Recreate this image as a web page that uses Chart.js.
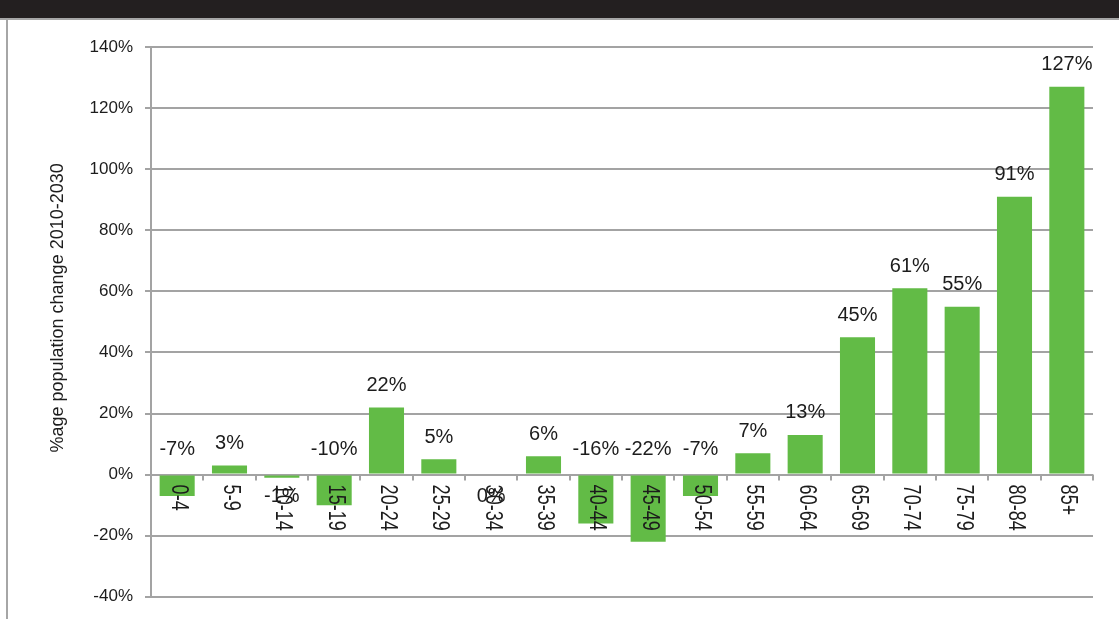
<!DOCTYPE html>
<html>
<head>
<meta charset="utf-8">
<title>Population change by age group 2010-2030</title>
<script src="https://cdn.jsdelivr.net/npm/chart.js"></script>
<style>
  html, body { margin: 0; padding: 0; background: #fff; }
  canvas { display: block; }
</style>
</head>
<body>
<canvas id="bar-chart" width="1119" height="619"></canvas>
<script>
// age bands and projected % change 2010-2030
const ageGroups = ["0-4", "5-9", "10-14", "15-19", "20-24", "25-29", "30-34", "35-39", "40-44",
  "45-49", "50-54", "55-59", "60-64", "65-69", "70-74", "75-79", "80-84", "85+"];
const pctChange = [-7, 3, -1, -10, 22, 5, 0, 6, -16, -22, -7, 7, 13, 45, 61, 55, 91, 127];
const yTicks = [-40, -20, 0, 20, 40, 60, 80, 100, 120, 140];
const yTitle = "%age population change 2010-2030";

const GREEN = "#62bb46";
const GRID = "#a3a3a3";
const INK = "#1c1c1c";
const FONT = "'Liberation Sans', Arial, sans-serif";

// black banner + grey frame behind the plot
const frame = {
  id: "frame",
  beforeDraw(chart) {
    const ctx = chart.ctx;
    ctx.save();
    ctx.fillStyle = "#231f20";
    ctx.fillRect(0, 0, chart.width, 18);
    ctx.fillStyle = "#a6a6a6";
    ctx.fillRect(0, 18, chart.width, 2);
    ctx.fillRect(6, 18, 2, chart.height - 18);
    ctx.restore();
  }
};

// category axis sits on the zero line, with rotated labels and value labels
const zeroAxis = {
  id: "zeroAxis",
  afterDatasetsDraw(chart) {
    const ctx = chart.ctx;
    const x = chart.scales.x;
    const y = chart.scales.y;
    const y0 = y.getPixelForValue(0);
    const step = x.getPixelForValue(1) - x.getPixelForValue(0);
    ctx.save();

    // tick marks between categories
    ctx.strokeStyle = GRID;
    ctx.lineWidth = 2;
    ctx.beginPath();
    for (let i = 1; i <= ageGroups.length; i++) {
      const px = Math.round(x.getPixelForValue(i - 1) + step / 2);
      ctx.moveTo(px, y0);
      ctx.lineTo(px, y0 + 6);
    }
    ctx.stroke();

    // age band labels, reading downwards
    ctx.fillStyle = INK;
    ctx.font = "18px " + FONT;
    ctx.textAlign = "left";
    ctx.textBaseline = "middle";
    ageGroups.forEach((g, i) => {
      ctx.save();
      ctx.translate(x.getPixelForValue(i) + 1, y0 + 10);
      ctx.rotate(Math.PI / 2);
      ctx.scale(1, 1.3);
      ctx.fillText(g, 0, 0);
      ctx.restore();
    });

    // value labels: above the bar (or the axis); tiny values sit under the axis
    ctx.font = "20px " + FONT;
    ctx.textAlign = "center";
    pctChange.forEach((v, i) => {
      const px = x.getPixelForValue(i);
      let py;
      if (Math.abs(v) < 2) py = y0 + 22;
      else py = y.getPixelForValue(Math.max(v, 0)) - (v < 0 ? 25 : 22);
      ctx.fillText(v + "%", px, py);
    });

    // rotated y-axis title
    ctx.font = "18px " + FONT;
    ctx.textBaseline = "middle";
    ctx.translate(58, (y.top + y.bottom) / 2 - 14);
    ctx.rotate(-Math.PI / 2);
    ctx.fillText(yTitle, 0, 0);
    ctx.restore();
  }
};

const ctx = document.getElementById("bar-chart").getContext("2d");
new Chart(ctx, {
  type: "bar",
  data: {
    labels: ageGroups,
    datasets: [{
      data: pctChange,
      backgroundColor: GREEN,
      borderWidth: 0,
      barPercentage: 0.67,
      categoryPercentage: 1.0
    }]
  },
  options: {
    responsive: false,
    animation: false,
    layout: { padding: { left: 0, top: 47, right: 26, bottom: 21 } },
    plugins: { legend: { display: false }, tooltip: { enabled: false } },
    scales: {
      x: {
        grid: { display: false },
        border: { display: false },
        ticks: { display: false },
        afterFit(scale) { scale.height = 0; }
      },
      y: {
        min: -40,
        max: 140,
        afterBuildTicks(scale) { scale.ticks = yTicks.map(v => ({ value: v })); },
        afterFit(scale) { scale.width = 151; },
        grid: { color: GRID, lineWidth: 2, tickLength: 6 },
        border: { color: GRID, width: 2 },
        ticks: {
          padding: 12,
          color: INK,
          font: { family: FONT, size: 17 },
          callback: v => v + "%"
        }
      }
    }
  },
  plugins: [frame, zeroAxis]
});
</script>
</body>
</html>
